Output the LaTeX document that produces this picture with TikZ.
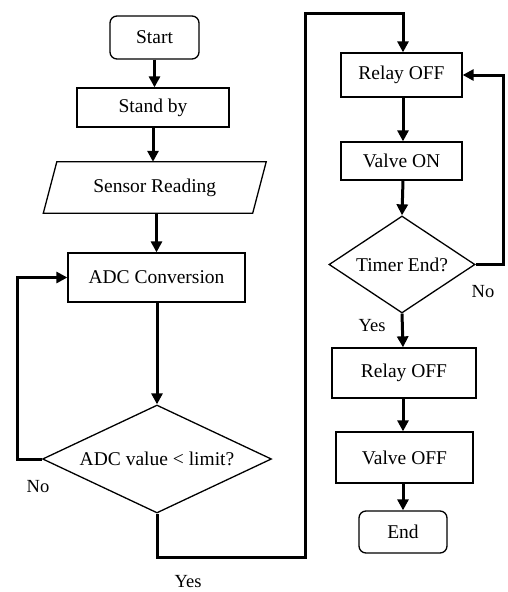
\documentclass[tikz,border=0pt]{standalone}
\usepackage{fontspec}
\setmainfont{Liberation Serif}
\usetikzlibrary{shapes.geometric,arrows.meta,calc}
\begin{document}
\begin{tikzpicture}[x=1pt,y=-1pt,
  every node/.style={font=\fontsize{19.5}{22}\selectfont, inner sep=0pt},
  box/.style={draw, line width=1.3pt, rectangle},
  rbox/.style={box, rounded corners=7pt},
  dia/.style={draw, line width=1.3pt, diamond},
  conn/.style={line width=3pt, -{Triangle[length=11pt,width=11pt]}},
  lbl/.style={font=\fontsize{18.5}{20}\selectfont}]
\useasboundingbox (0,0) rectangle (507,592);
% left column
\node[rbox, minimum width=89pt, minimum height=43pt] (start) at (154.5,37.5) {Start};
\node[box, minimum width=152pt, minimum height=39pt] (stand) at (153,107.5) {Stand by};
\node[minimum width=209pt, minimum height=51pt] (sensor) at (154.75,187.5) {Sensor Reading};
\draw[line width=1.3pt] ([xshift=6.75pt]sensor.north west) -- ([xshift=6.75pt]sensor.north east)
  -- ([xshift=-6.75pt]sensor.south east) -- ([xshift=-6.75pt]sensor.south west) -- cycle;
\node[box, minimum width=177pt, minimum height=49pt] (adc) at (156.5,277.5) {ADC Conversion};
\node[dia, aspect=2.12, minimum width=229pt, minimum height=108pt] (d1) at (157,459) {ADC value < limit?};
% right column
\node[box, minimum width=121pt, minimum height=44pt] (r1) at (401.5,75) {Relay OFF};
\node[box, minimum width=121pt, minimum height=38pt] (v1) at (401.5,161) {Valve ON};
\node[dia, aspect=1.5, minimum width=146pt, minimum height=97pt] (d2) at (402,264.5) {Timer End?};
\node[box, minimum width=144pt, minimum height=50pt] (r2) at (404,373) {Relay OFF};
\node[box, minimum width=137pt, minimum height=51pt] (v2) at (404.5,457.5) {Valve OFF};
\node[rbox, minimum width=88pt, minimum height=42pt] (end) at (403,532) {End};
% helper coordinates
\coordinate (nl) at (17,459);
\coordinate (ya) at (305,557);
\coordinate (yb) at (305,13);
\coordinate (tn) at (503,264.5);
\coordinate (col) at (403,0);
% connectors left
\draw[conn] (start.south) -- (start.south |- stand.north);
\draw[conn] (stand.south) -- (stand.south |- sensor.north);
\draw[conn] (156.5,213) -- (adc.north);
\draw[conn] (d1.north |- adc.south) -- (d1.north);
\draw[conn] (d1.west) -- (nl) |- (adc.west);
\draw[conn] (d1.south) |- (ya) -- (yb) -| (col |- r1.north);
% connectors right
\draw[conn] (col |- r1.south) -- (col |- v1.north);
\draw[conn] (col |- v1.south) -- (d2.north);
\draw[conn] (d2.east) -- (tn) |- (r1.east);
\draw[conn] (d2.south) -- (col |- r2.north);
\draw[conn] (col |- r2.south) -- (col |- v2.north);
\draw[conn] (col |- v2.south) -- (col |- end.north);
% labels
\node[lbl] (no1) at (38,487) {No};
\node[lbl] (yes1) at (188,582) {Yes};
\node[lbl] (no2) at (483,292) {No};
\node[lbl] (yes2) at (372,326) {Yes};
\end{tikzpicture}
\end{document}
